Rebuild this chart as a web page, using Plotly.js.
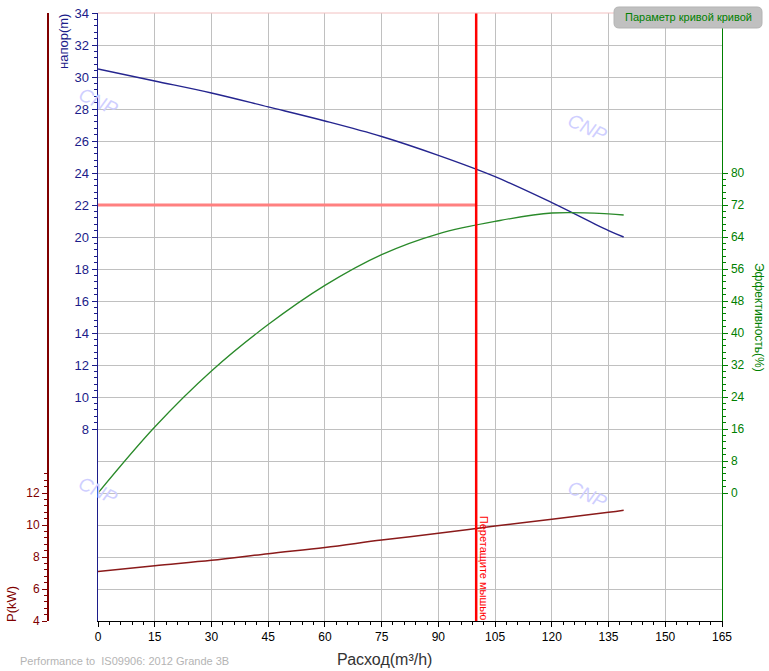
<!DOCTYPE html>
<html><head><meta charset="utf-8">
<script src="https://cdn.plot.ly/plotly-3.0.1.min.js"></script>
<style>html,body{margin:0;padding:0;background:#fff}#chart{width:769px;height:671px}</style>
</head><body><div id="chart"></div>
<script>
// ---- data ----
const flow  = [0, 15, 30, 45, 60, 75, 90, 105, 120, 135, 139];
const head  = [30.5, 29.75, 29.0, 28.13, 27.25, 26.28, 25.1, 23.77, 22.15, 20.4, 20.0];
const eff   = [0, 16.5, 30.5, 42.1, 51.9, 59.6, 64.8, 67.9, 70.0, 69.8, 69.5];
const power = [7.1, 7.46, 7.79, 8.21, 8.6, 9.06, 9.48, 9.94, 10.36, 10.79, 10.92];
const dutyFlow = 100;
const dutyHead = 22;
const flowTicks  = [0, 15, 30, 45, 60, 75, 90, 105, 120, 135, 150, 165];
const headTicks  = [8, 10, 12, 14, 16, 18, 20, 22, 24, 26, 28, 30, 32, 34];
const headGridLow = [-4, -2, 0, 2, 4, 6];
const powerTicks = [4, 6, 8, 10, 12];
const effTicks   = [0, 8, 16, 24, 32, 40, 48, 56, 64, 72, 80];
const headRange = [-4, 34], powerRange = [4, 42], effRange = [-32, 120], flowRange = [0, 165];

// ---- helpers (pixel -> paper) ----
const FW = 769, TOP = 13, BOT = 621;
const fx = p => +(p / FW).toFixed(5);
const fy = p => +((BOT - p) / (BOT - TOP)).toFixed(5);
function minors(start, step, n) { const a = []; for (let i = 0; i <= n; i++) if (i % 5) a.push(+(start + i * step).toFixed(3)); return a; }

const NAVY = '#1c1c8a', GREEN = '#008000', DRED = '#800000';
const FONT = 'Liberation Sans, Arial, sans-serif';

const traces = [
  {x: flow, y: head, yaxis: 'y', mode: 'lines', line: {color: '#25258f', width: 1.4, shape: 'spline', smoothing: 1}, hoverinfo: 'skip'},
  {x: flow, y: power, yaxis: 'y2', mode: 'lines', line: {color: '#8a1a1a', width: 1.5, shape: 'spline', smoothing: 1}, hoverinfo: 'skip'},
  {x: flow, y: eff, yaxis: 'y3', mode: 'lines', line: {color: '#2a8a2a', width: 1.3, shape: 'spline', smoothing: 1}, hoverinfo: 'skip'},
  {x: [0, dutyFlow], y: [dutyHead, dutyHead], yaxis: 'y4', mode: 'lines', line: {color: '#ff8080', width: 3}, hoverinfo: 'skip'},
  {x: [dutyFlow, dutyFlow], y: headRange, yaxis: 'y4', mode: 'lines', line: {color: '#ff0000', width: 2.5}, hoverinfo: 'skip'}
];

// rounded legend box (pixel corners -> paper)
const bx1 = fx(614), bx2 = fx(762), by1 = fy(7), by2 = fy(28);
const rx = +(5 / FW).toFixed(5), ry = +(5 / (BOT - TOP)).toFixed(5);
const P = v => (+v).toFixed(5);
const boxPath = `M ${P(bx1+rx)},${P(by1)} L ${P(bx2-rx)},${P(by1)} Q ${P(bx2)},${P(by1)} ${P(bx2)},${P(by1-ry)} L ${P(bx2)},${P(by2+ry)} Q ${P(bx2)},${P(by2)} ${P(bx2-rx)},${P(by2)} L ${P(bx1+rx)},${P(by2)} Q ${P(bx1)},${P(by2)} ${P(bx1)},${P(by2+ry)} L ${P(bx1)},${P(by1-ry)} Q ${P(bx1)},${P(by1)} ${P(bx1+rx)},${P(by1)} Z`;

const ann = (px, py, text, font, extra) => Object.assign({xref: 'paper', yref: 'paper', x: fx(px), y: fy(py), text: text,
  showarrow: false, xanchor: 'center', yanchor: 'middle', font: Object.assign({family: FONT}, font)}, extra || {});
const wm = (px, py) => ann(px, py, '<i>CNP</i>', {size: 19, color: '#cfcfff'}, {textangle: 25});

const layout = {
  width: 769, height: 671,
  margin: {l: 0, r: 0, t: TOP, b: 671 - BOT},
  paper_bgcolor: '#fff', plot_bgcolor: '#fff',
  showlegend: false,
  font: {family: FONT},
  xaxis: {domain: [fx(98), fx(722)], range: flowRange, tickmode: 'array', tickvals: flowTicks,
    showgrid: true, gridcolor: '#c0c0c0', gridwidth: 1, zeroline: false,
    showline: true, linecolor: '#000', linewidth: 1, ticks: 'outside', ticklen: 5, tickcolor: '#000',
    minor: {dtick: 3, tick0: 0, ticks: 'outside', ticklen: 3, tickcolor: '#000', showgrid: false},
    tickfont: {size: 12, color: '#000'}, fixedrange: true},
  yaxis: {range: headRange, anchor: 'x', side: 'left', tickmode: 'array', tickvals: headTicks,
    showgrid: true, gridcolor: '#c0c0c0', zeroline: false,
    showline: true, linecolor: NAVY, linewidth: 1.5, ticks: 'outside', ticklen: 5, tickcolor: NAVY,
    minor: {tickmode: 'array', tickvals: minors(8, 0.4, 65), ticks: 'outside', ticklen: 3, tickcolor: NAVY, showgrid: false},
    tickfont: {size: 13, color: NAVY}, fixedrange: true},
  yaxis2: {range: powerRange, overlaying: 'y', anchor: 'free', position: fx(47), side: 'left',
    tickmode: 'array', tickvals: powerTicks, showgrid: false, zeroline: false,
    showline: true, linecolor: DRED, linewidth: 1.5, ticks: 'outside', ticklen: 5, tickcolor: DRED,
    minor: {tickmode: 'array', tickvals: minors(4, 0.4, 23), ticks: 'outside', ticklen: 3, tickcolor: DRED},
    tickfont: {size: 12, color: DRED}, fixedrange: true},
  yaxis3: {range: effRange, overlaying: 'y', anchor: 'x', side: 'right',
    tickmode: 'array', tickvals: effTicks, showgrid: false, zeroline: false,
    showline: true, linecolor: GREEN, linewidth: 1.5, ticks: 'outside', ticklen: 5, tickcolor: GREEN,
    minor: {tickmode: 'array', tickvals: minors(0, 1.6, 50), ticks: 'outside', ticklen: 3, tickcolor: GREEN},
    tickfont: {size: 12, color: GREEN}, fixedrange: true},
  yaxis4: {range: headRange, overlaying: 'y', anchor: 'x', side: 'left', tickmode: 'array', tickvals: headGridLow,
    showgrid: true, gridcolor: '#c0c0c0', showticklabels: false, ticks: '', showline: false, zeroline: false, fixedrange: true},
  shapes: [
    {type: 'line', xref: 'paper', yref: 'paper', x0: fx(98), x1: fx(722), y0: 1, y1: 1, line: {color: '#f2c0c0', width: 1}, layer: 'above'},
    {type: 'path', xref: 'paper', yref: 'paper', path: boxPath, fillcolor: '#c0c0c0', line: {color: '#b4b4b4', width: 1}, layer: 'above'}
  ],
  annotations: [
    ann(64, 41, 'напор(m)', {size: 13, color: NAVY}, {textangle: -90}),
    ann(11, 604, 'P(kW)', {size: 13, color: DRED}, {textangle: -90}),
    ann(759, 317, 'Эффективность(%)', {size: 12, color: GREEN}, {textangle: 90}),
    ann(385, 660, 'Расход(m³/h)', {size: 16, color: '#333'}),
    ann(18, 661, 'Performance to  IS09906: 2012 Grande 3B', {size: 11, color: '#b4b4b4'}, {xanchor: 'left'}),
    {xref: 'x', yref: 'paper', x: dutyFlow, xshift: 8, y: fy(568), xanchor: 'center', yanchor: 'middle',
      text: 'Перетащите мышью', textangle: 90, showarrow: false, font: {family: FONT, size: 11, color: '#ff0000'}},
    ann(688, 17.5, 'Параметр кривой кривой', {size: 11, color: GREEN}),
    wm(98, 102), wm(587, 128), wm(98, 490), wm(587, 495)
  ]
};

Plotly.newPlot('chart', traces, layout, {displayModeBar: false, staticPlot: true});
</script></body></html>
